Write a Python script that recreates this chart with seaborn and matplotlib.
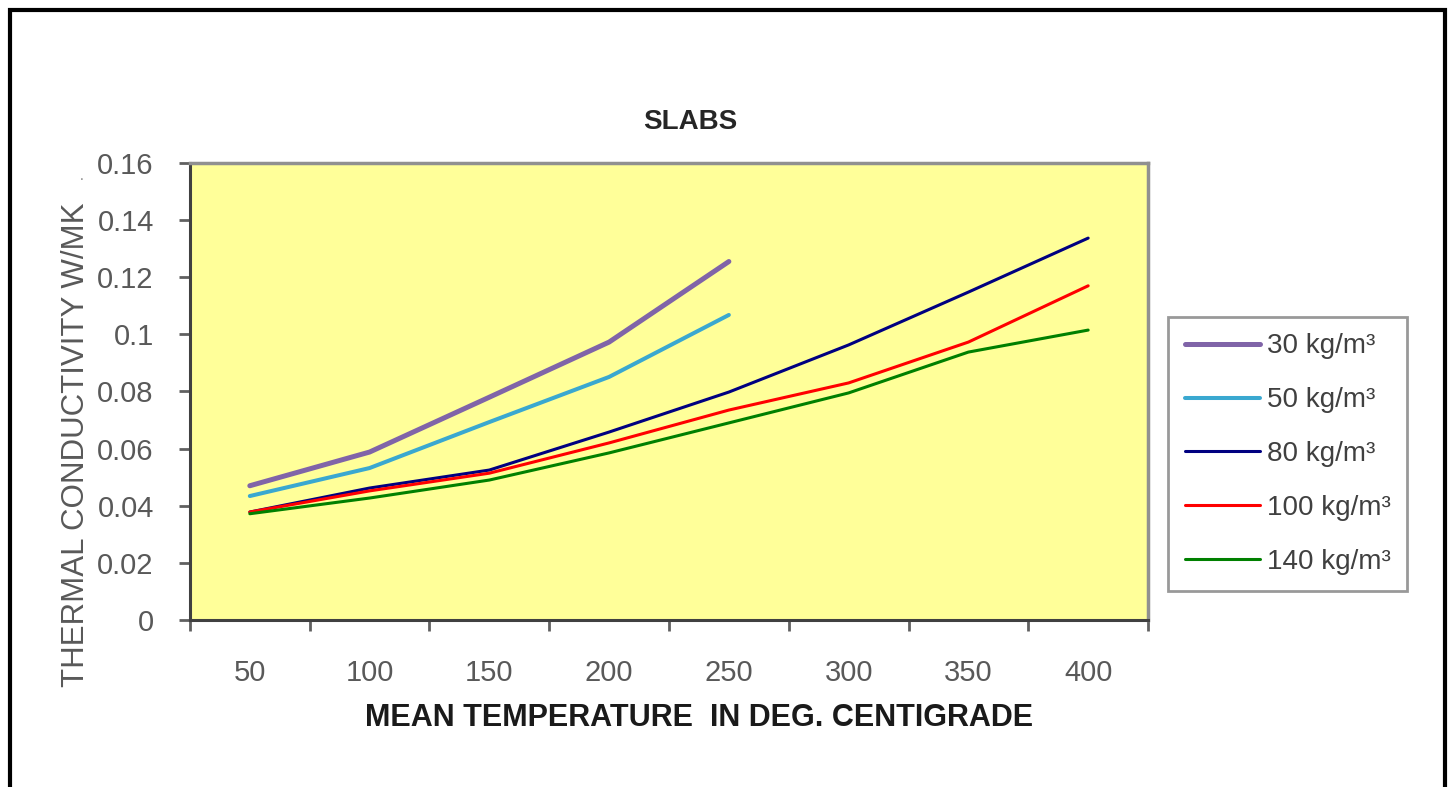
import pandas as pd
import seaborn as sns
import matplotlib.pyplot as plt
from matplotlib.patches import Rectangle

# Данные: средняя температура и теплопроводность по плотности
temperature = [50, 100, 150, 200, 250, 300, 350, 400]
k_30 = [0.047, 0.0588, 0.078, 0.0973, 0.1255]
k_50 = [0.0434, 0.0532, 0.0693, 0.0851, 0.1068]
k_80 = [0.0378, 0.0462, 0.0525, 0.0658, 0.0798, 0.0963, 0.1148, 0.1337]
k_100 = [0.0378, 0.0452, 0.0514, 0.062, 0.0735, 0.083, 0.0973, 0.117]
k_140 = [0.0372, 0.0427, 0.049, 0.0585, 0.069, 0.0795, 0.0938, 0.1015]
series_names = ['30 kg/m³', '50 kg/m³', '80 kg/m³', '100 kg/m³', '140 kg/m³']
y_ticks = [0, 0.02, 0.04, 0.06, 0.08, 0.1, 0.12, 0.14, 0.16]
y_tick_labels = ['0', '0.02', '0.04', '0.06', '0.08', '0.1', '0.12', '0.14', '0.16']

rows = []
for name, vals in zip(series_names, [k_30, k_50, k_80, k_100, k_140]):
    for t, v in zip(temperature, vals):
        rows.append({'Density': name, 'Temperature': t, 'K': v})
df = pd.DataFrame(rows)

colors = ['#8064A8', '#3AA8D0', '#000080', '#FF0000', '#008000']
widths = [3.6, 2.9, 2.2, 2.2, 2.2]

sns.set_style('white')
plt.rcParams['font.family'] = ['Liberation Sans', 'DejaVu Sans']

fig = plt.figure(figsize=(14.51, 7.87), dpi=100)
ax = fig.add_axes([0.1309, 0.2122, 0.6603, 0.5807])
ax.set_facecolor('#FFFF99')

for name, c, lw in zip(series_names, colors, widths):
    sns.lineplot(data=df[df['Density'] == name], x='Temperature', y='K',
                 color=c, linewidth=lw, label=name, ax=ax, legend=False)

# Оси в стиле Excel
ax.set_xlim(25, 425)
ax.set_ylim(0, 0.16)
ax.set_xticks([25 + 50 * i for i in range(9)])
ax.set_xticklabels([])
ax.set_xticks(temperature, minor=True)
ax.set_xticklabels([str(t) for t in temperature], minor=True)
ax.tick_params(axis='x', which='major', length=8, width=2, color='#606060', direction='out', bottom=True)
ax.tick_params(axis='x', which='minor', length=0, pad=28, labelsize=21, labelcolor='#595959')
ax.set_yticks(y_ticks)
ax.set_yticklabels(y_tick_labels)
ax.tick_params(axis='y', length=8, width=2, color='#606060', direction='out', left=True,
               pad=18, labelsize=21, labelcolor='#595959')
ax.set_xlabel('')
ax.set_ylabel('')
ax.grid(False)
for side in ['left', 'bottom']:
    ax.spines[side].set_color('#404040')
    ax.spines[side].set_linewidth(2.2)
for side in ['top', 'right']:
    ax.spines[side].set_color('#909090')
    ax.spines[side].set_linewidth(2.5)

# Подписи
fig.text(690 / 1451, 1 - 122 / 787, 'SLABS', ha='center', va='center',
         fontsize=20, fontweight='bold', color='#262626')
fig.text(699 / 1451, 1 - 718 / 787, 'MEAN TEMPERATURE  IN DEG. CENTIGRADE', ha='center', va='center',
         fontsize=22, fontweight='bold', color='#1a1a1a')
fig.text(76 / 1451, 1 - 445 / 787, 'THERMAL CONDUCTIVITY W/MK', ha='center', va='center',
         rotation=90, fontsize=22.5, color='#595959')
fig.text(82 / 1451, 1 - 176 / 787, '.', ha='center', va='center', fontsize=10, color='#808080')

leg = fig.legend(loc='center left', bbox_to_anchor=(1168 / 1451, 1 - 454 / 787),
                 fontsize=20, handlelength=2.7, handletextpad=0.25, labelspacing=1.0,
                 borderpad=0.6, fancybox=False, frameon=True, borderaxespad=0)
leg.get_frame().set_edgecolor('#808080')
leg.get_frame().set_linewidth(2)
for t in leg.get_texts():
    t.set_color('#404040')

# Рамка вокруг всего рисунка
fig.patches.append(Rectangle((10 / 1451, -0.05), 1435 / 1451, 1.05 - 10 / 787,
                             transform=fig.transFigure, fill=False, edgecolor='black', linewidth=3))

plt.savefig('out.png', dpi=100)
